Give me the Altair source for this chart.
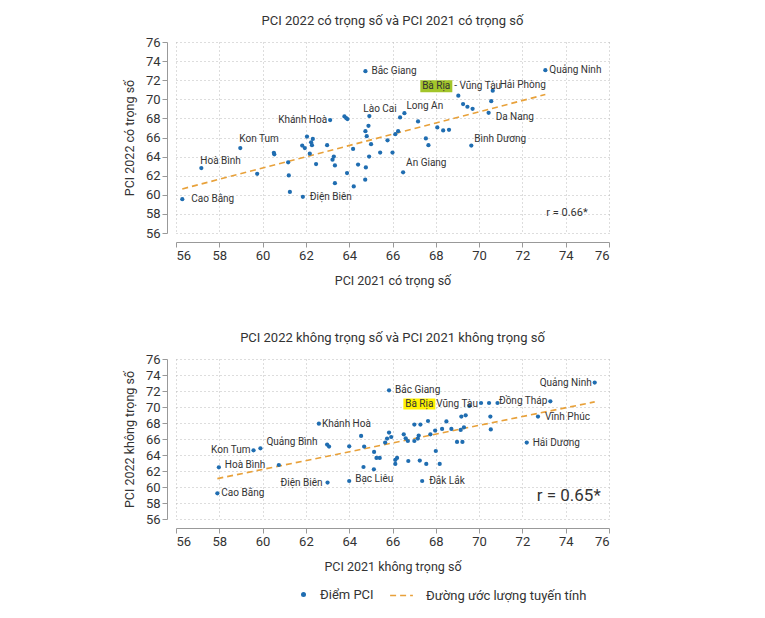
import altair as alt
import pandas as pd

FONT = "Roboto, sans-serif"
BLUE = "#1f6db1"
ORANGE = "#e8a13a"
TXT = "#333333"

# ---------------- top panel data (PCI có trọng số) ----------------
top_names = ["Cao Bằng", "Hoà Bình", "Kon Tum", "Khánh Hoà", "Điện Biên", "Bắc Giang",
             "Lào Cai", "Long An", "An Giang", "Bà Rịa - Vũng Tàu", "Hải Phòng",
             "Da Nang", "Bình Dương", "Quảng Ninh"] + [""] * 49
top_x = [56.29, 57.17, 58.97, 63.12, 61.86, 64.75, 64.93, 66.55, 66.49, 69.04, 70.63,
         70.44, 69.64, 73.06,
         59.75, 60.52, 60.54, 61.18, 61.21, 61.26, 62.05, 61.83, 61.95, 62.24, 62.28,
         62.32, 62.18, 62.47, 62.98, 63.23, 63.29, 63.34, 63.34, 63.78, 63.86, 63.92,
         63.90, 64.18, 64.21, 64.41, 64.75, 64.81, 64.89, 64.92, 65.01, 64.77, 64.74,
         65.43, 65.77, 66.00, 66.13, 66.26, 66.35, 67.18, 67.54, 67.66, 68.07, 68.34,
         68.61, 69.26, 69.46, 69.70, 70.56]
top_y = [59.54, 62.80, 64.90, 67.82, 59.79, 72.95, 68.24, 68.55, 62.35, 70.38, 70.90,
         68.59, 65.16, 73.05,
         62.20, 64.40, 64.24, 63.40, 62.03, 60.30, 66.10, 65.16, 64.90, 65.50, 65.20,
         65.85, 64.30, 63.22, 65.20, 63.68, 64.00, 63.08, 61.22, 68.21, 68.03, 67.93,
         62.27, 64.80, 60.87, 63.16, 66.66, 66.14, 67.22, 64.00, 65.30, 62.87, 61.58,
         64.42, 65.70, 64.42, 66.35, 66.66, 68.10, 67.68, 65.90, 65.20, 67.05, 66.74,
         66.80, 69.50, 69.22, 69.00, 69.80]

# ---------------- bottom panel data (PCI không trọng số) ----------------
bot_names = ["Cao Bằng", "Hoà Bình", "Kon Tum", "Quảng Bình", "Khánh Hoà", "Điện Biên",
             "Bạc Liêu", "Bắc Giang", "Bà Rịa Vũng Tàu", "Đắk Lắk", "Đồng Tháp",
             "Vĩnh Phúc", "Hải Dương", "Quảng Ninh"] + [""] * 48
bot_x = [57.91, 57.98, 59.58, 59.90, 62.60, 63.00, 64.00, 65.84, 69.55, 67.37, 73.29,
         72.72, 72.20, 75.34,
         60.75, 62.98, 63.07, 64.00, 64.55, 64.69, 64.66, 65.14, 65.15, 65.26, 65.41,
         65.66, 65.75, 70.09, 70.46, 70.85, 69.18, 69.38, 70.52, 67.64, 67.01, 67.29,
         68.49, 67.97, 68.29, 68.72, 69.15, 69.30, 70.54, 65.84, 65.94, 66.52, 66.61,
         66.71, 67.01, 67.17, 67.21, 67.75, 68.98, 69.23, 68.00, 66.13, 66.21, 66.13,
         66.73, 67.26, 67.56, 68.18]
bot_y = [59.21, 62.46, 64.59, 64.84, 67.92, 60.55, 60.75, 72.09, 70.13, 60.75, 70.71,
         68.80, 65.55, 73.05,
         62.75, 65.30, 65.05, 65.09, 66.38, 65.05, 62.50, 62.21, 64.38, 63.63, 63.63,
         65.55, 66.05, 70.50, 70.50, 70.50, 68.80, 68.96, 68.80, 68.25, 67.80, 67.80,
         68.20, 67.05, 67.26, 67.26, 67.13, 67.46, 67.20, 66.80, 66.25, 66.59, 66.09,
         65.75, 65.75, 66.05, 66.43, 66.59, 65.63, 65.63, 64.50, 63.38, 63.63, 62.88,
         63.25, 63.30, 62.88, 62.88]

ticks = [56, 58, 60, 62, 64, 66, 68, 70, 72, 74, 76]
point_series = "Điểm PCI"
line_series = "Đường ước lượng tuyến tính"

top_title = "PCI 2022 có trọng số và PCI 2021 có trọng số"
top_xtitle = "PCI 2021 có trọng số"
top_ytitle = "PCI 2022 có trọng số"
top_r = "r = 0.66*"
bot_title = "PCI 2022 không trọng số và PCI 2021 không trọng số"
bot_xtitle = "PCI 2021 không trọng số"
bot_ytitle = "PCI 2022 không trọng số"
bot_r = "r = 0.65*"

# label placement (style, not data): name -> list of (text, align, dx, dy)
top_label_style = {
    "Cao Bằng": [("Cao Bằng", "left", 9, 0)],
    "Hoà Bình": [("Hoà Bình", "left", -1, -7)],
    "Kon Tum": [("Kon Tum", "left", -1, -9)],
    "Khánh Hoà": [("Khánh Hoà", "right", -3, 0)],
    "Điện Biên": [("Điện Biên", "left", 7, 0)],
    "Bắc Giang": [("Bắc Giang", "left", 6, 0)],
    "Lào Cai": [("Lào Cai", "left", -6, -7)],
    "Long An": [("Long An", "left", 2, -7)],
    "An Giang": [("An Giang", "left", 3, -9)],
    "Bà Rịa - Vũng Tàu": [("Bà Rịa", "right", -8, -9.5), ("- Vũng Tàu", "left", -4, -9.5)],
    "Hải Phòng": [("Hải Phòng", "left", 7, -6)],
    "Da Nang": [("Da Nang", "left", 7, 4)],
    "Bình Dương": [("Bình Dương", "left", 3, -7)],
    "Quảng Ninh": [("Quảng Ninh", "left", 4, 0)],
}
bot_label_style = {
    "Cao Bằng": [("Cao Bằng", "left", 4, 0)],
    "Hoà Bình": [("Hoà Bình", "left", 6, -2)],
    "Kon Tum": [("Kon Tum", "right", -3, 0)],
    "Quảng Bình": [("Quảng Bình", "left", 6, -6)],
    "Khánh Hoà": [("Khánh Hoà", "left", 3, 0)],
    "Điện Biên": [("Điện Biên", "right", -5, 0)],
    "Bạc Liêu": [("Bạc Liêu", "left", 6, -2)],
    "Bắc Giang": [("Bắc Giang", "left", 6, 0)],
    "Bà Rịa Vũng Tàu": [("Bà Rịa", "right", -36, -2), ("Vũng Tàu", "left", -33, -2)],
    "Đắk Lắk": [("Đắk Lắk", "left", 7, 0)],
    "Đồng Tháp": [("Đồng Tháp", "right", -3, 0)],
    "Vĩnh Phúc": [("Vĩnh Phúc", "left", 7, 0)],
    "Hải Dương": [("Hải Dương", "left", 6, 0)],
    "Quảng Ninh": [("Quảng Ninh", "right", -3, 0)],
}
# highlight box offsets (px) around the "Bà Rịa" part: name, colour, x0, x1, y0, y1
top_highlight = ("Bà Rịa - Vũng Tàu", "#a3c52a", -38, -6, -15.5, -3.5)
bot_highlight = ("Bà Rịa Vũng Tàu", "#fff200", -66, -34, -7.5, 3.5)

# r annotation position in data units
top_r_pos = (74.06, 58.1)
bot_r_pos = (74.14, 58.9)


def panel(names, xs, ys, title, xtitle, ytitle, height, styles, hl, rtext, rpos, rsize):
    df = pd.DataFrame({"x": xs, "y": ys, "name": names, "series": point_series})
    base = alt.Chart(df)
    X = alt.X("x:Q", scale=alt.Scale(domain=[56, 76], nice=False, zero=False),
              axis=alt.Axis(values=ticks, title=xtitle, offset=9))
    Y = alt.Y("y:Q", scale=alt.Scale(domain=[56, 76], nice=False, zero=False),
              axis=alt.Axis(values=ticks, title=ytitle, offset=9))

    layers = []
    hname, hcol, x0, x1, y0, y1 = hl
    layers.append(
        base.transform_filter(alt.FieldEqualPredicate(field="name", equal=hname))
        .mark_rect(color=hcol, xOffset=x0, x2Offset=x1, yOffset=y0, y2Offset=y1)
        .encode(x=X, x2="x", y=Y, y2="y")
    )
    layers.append(
        base.transform_regression("x", "y")
        .transform_calculate(fit=f"'{line_series}'")
        .mark_line(color=ORANGE, strokeWidth=1.6)
        .encode(
            x=X, y=Y,
            strokeDash=alt.StrokeDash(
                "fit:N",
                scale=alt.Scale(domain=[line_series], range=[[6, 4]]),
                legend=alt.Legend(title=None, symbolType="stroke", symbolStrokeColor=ORANGE,
                                  symbolStrokeWidth=1.6, symbolSize=520, labelFontSize=13,
                                  labelOffset=12, labelLimit=400, orient="none",
                                  legendX=213, legendY=541),
            ),
        )
    )
    layers.append(
        base.mark_circle(size=18, opacity=1).encode(
            x=X, y=Y,
            color=alt.Color(
                "series:N",
                scale=alt.Scale(domain=[point_series], range=[BLUE]),
                legend=alt.Legend(title=None, symbolType="circle", symbolSize=25,
                                  labelFontSize=13, labelOffset=10, labelLimit=300,
                                  orient="none", legendX=121, legendY=546),
            ),
        )
    )
    for nm, parts in styles.items():
        for text, align, dx, dy in parts:
            layers.append(
                base.transform_filter(alt.FieldEqualPredicate(field="name", equal=nm))
                .mark_text(align=align, baseline="middle", dx=dx, dy=dy, fontSize=10,
                           color=TXT, font=FONT)
                .encode(x=X, y=Y, text=alt.value(text))
            )
    rdf = pd.DataFrame({"x": [rpos[0]], "y": [rpos[1]], "t": [rtext]})
    layers.append(
        alt.Chart(rdf).mark_text(fontSize=rsize, color=TXT, font=FONT, baseline="middle")
        .encode(x=X, y=Y, text="t:N")
    )
    return alt.layer(*layers).properties(
        width=433, height=height,
        title=alt.TitleParams(title, frame="group", anchor="middle", fontSize=13,
                              fontWeight="normal", color=TXT, font=FONT, offset=8),
    )


top = panel(top_names, top_x, top_y, top_title, top_xtitle, top_ytitle, 191,
            top_label_style, top_highlight, top_r, top_r_pos, 11)
bot = panel(bot_names, bot_x, bot_y, bot_title, bot_xtitle, bot_ytitle, 160,
            bot_label_style, bot_highlight, bot_r, bot_r_pos, 17)

chart = alt.vconcat(top, bot, spacing=45).properties(
    padding={"left": 115, "top": 7, "right": 5, "bottom": 0}
).configure_view(stroke=None).configure_axis(
    grid=True, gridDash=[1, 3], gridColor="#bbbbbb", gridWidth=1,
    domainColor="#999999", tickColor="#999999", tickSize=5,
    labelColor=TXT, titleColor=TXT, labelFontSize=13, titleFontSize=12.5,
    titleFontWeight="normal", labelFont=FONT, titleFont=FONT, labelPadding=2,
).configure_axisX(titlePadding=12).configure_axisY(titlePadding=9).configure_legend(
    labelFont=FONT, labelColor=TXT
)

chart.save("out.html", embed_options={"renderer": "svg", "actions": False})
